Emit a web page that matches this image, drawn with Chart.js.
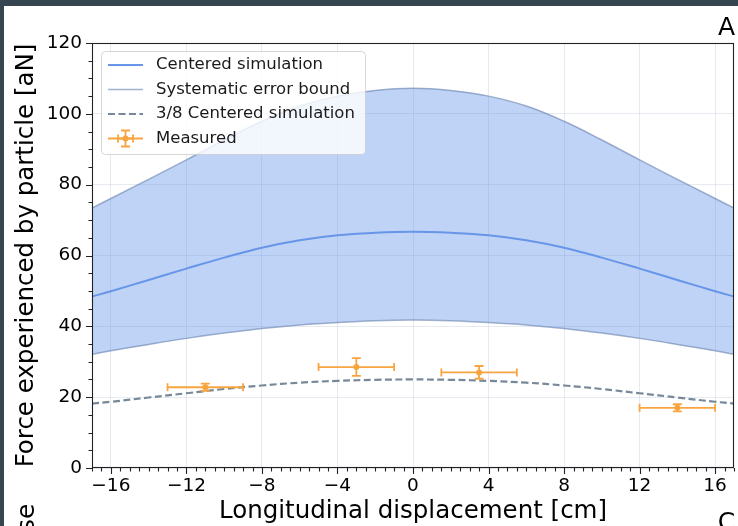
<!DOCTYPE html>
<html>
<head>
<meta charset="utf-8">
<script src="https://cdn.jsdelivr.net/npm/chart.js@4.4.1/dist/chart.umd.min.js"></script>
<style>
  html, body { margin: 0; padding: 0; background: #fff; overflow: hidden; }
  canvas { display: block; }
</style>
</head>
<body>
<canvas id="plot" width="738" height="526"></canvas>
<script>
const FAMILY = "'DejaVu Sans', 'Liberation Sans', sans-serif";
const MINUS = '\u2212';

// Simulated force along the track (cm -> aN)
const xSim = [-17, -16, -14, -12, -10, -8, -6, -4, -2, 0, 2, 4, 6, 8, 10, 12, 14, 16, 17];
const centered = [48.4, 49.9, 53.1, 56.3, 59.4, 62.2, 64.3, 65.7, 66.4, 66.7, 66.4, 65.7, 64.3, 62.2, 59.4, 56.3, 53.1, 49.9, 48.4];
const upperBound = [73.4, 76.1, 81.5, 87.0, 92.6, 97.9, 102.2, 105.0, 106.6, 107.2, 106.6, 105.0, 102.2, 97.9, 92.6, 87.0, 81.5, 76.1, 73.4];
const lowerBound = [32.1, 33.1, 34.9, 36.6, 38.1, 39.4, 40.4, 41.1, 41.6, 41.8, 41.6, 41.1, 40.4, 39.4, 38.1, 36.6, 34.9, 33.1, 32.1];
const scaledCentered = [18.2, 18.7, 19.9, 21.1, 22.3, 23.3, 24.1, 24.6, 24.9, 25.0, 24.9, 24.6, 24.1, 23.3, 22.3, 21.1, 19.9, 18.7, 18.2];

// Measurements with their uncertainties
const xMeas = [-11, -3, 3.5, 14];
const yMeas = [22.8, 28.5, 27.0, 17.0];
const xErr = [2, 2, 2, 2];
const yErr = [1.0, 2.5, 1.8, 1.0];

const X_MAJOR = 4, X_MINOR = 0.5;
const Y_MAJOR = 20, Y_MINOR = 5;

const BLUE = '#6795e8';
const BOUND = 'rgba(105,130,175,0.62)';
const FILL = 'rgba(95,145,232,0.4)';
const SLATE = '#778899';
const ORANGE = '#f8a53f';
const GRID = 'rgba(160,175,200,0.25)';

const pts = ys => xSim.map((x, i) => ({x, y: ys[i]}));
const isMajor = (v, step) => Math.abs(v / step - Math.round(v / step)) < 1e-6;
const fmt = v => (v < 0 ? MINUS + Math.abs(v) : String(v));

function drawErrorbar(ctx, cx, cy, x0, x1, y0, y1, capX, capY) {
    ctx.beginPath();
    ctx.moveTo(x0, cy); ctx.lineTo(x1, cy);
    ctx.moveTo(cx, y0); ctx.lineTo(cx, y1);
    // caps
    ctx.moveTo(x0, cy - capY); ctx.lineTo(x0, cy + capY);
    ctx.moveTo(x1, cy - capY); ctx.lineTo(x1, cy + capY);
    ctx.moveTo(cx - capX, y0); ctx.lineTo(cx + capX, y0);
    ctx.moveTo(cx - capX, y1); ctx.lineTo(cx + capX, y1);
    ctx.stroke();
}

const figurePlugin = {
    id: 'figure',
    beforeDraw(chart) {
        const {ctx, width, height} = chart;
        ctx.save();
        ctx.fillStyle = '#fff';
        ctx.fillRect(0, 0, width, height);
        ctx.restore();
    },
    afterDatasetsDraw(chart) {
        const {ctx, scales: {x, y}} = chart;
        ctx.save();
        ctx.strokeStyle = ORANGE;
        ctx.lineWidth = 1.8;
        xMeas.forEach((xv, i) => {
            drawErrorbar(ctx,
                x.getPixelForValue(xv), y.getPixelForValue(yMeas[i]),
                x.getPixelForValue(xv - xErr[i]), x.getPixelForValue(xv + xErr[i]),
                y.getPixelForValue(yMeas[i] + yErr[i]), y.getPixelForValue(yMeas[i] - yErr[i]),
                4.5, 4);
        });
        ctx.restore();
    },
    afterDraw(chart) {
        const {ctx, chartArea: a, scales: {x, y}} = chart;
        ctx.save();

        // spines
        ctx.strokeStyle = '#222';
        ctx.lineWidth = 1.1;
        ctx.strokeRect(a.left + 0.5, a.top + 0.5, a.right - a.left - 1, a.bottom - a.top - 1);

        // outward ticks, major and minor
        ctx.beginPath();
        x.ticks.forEach(t => {
            const px = Math.round(x.getPixelForValue(t.value)) + 0.5;
            const len = isMajor(t.value, X_MAJOR) ? 6 : 3.5;
            ctx.moveTo(px, a.bottom);
            ctx.lineTo(px, a.bottom + len);
        });
        y.ticks.forEach(t => {
            const py = Math.round(y.getPixelForValue(t.value)) + 0.5;
            const len = isMajor(t.value, Y_MAJOR) ? 6 : 3.5;
            ctx.moveTo(a.left, py);
            ctx.lineTo(a.left - len, py);
        });
        ctx.stroke();

        drawLegend(chart);

        // panel letters
        ctx.fillStyle = '#000';
        ctx.font = `25px ${FAMILY}`;
        ctx.textAlign = 'center';
        ctx.textBaseline = 'alphabetic';
        ctx.fillText('A', 726.5, 35);
        ctx.fillText('C', 726.5, 530);
        ctx.save();
        ctx.translate(34, 532);
        ctx.rotate(-Math.PI / 2);
        ctx.textAlign = 'left';
        ctx.fillText('se', 0, 0);
        ctx.restore();

        // window frame
        ctx.fillStyle = '#354650';
        ctx.fillRect(0, 0, chart.width, 6);
        ctx.fillRect(0, 0, 4, chart.height);
        ctx.restore();
    }
};

function drawLegend(chart) {
    const {ctx} = chart;
    const ds = chart.data.datasets;
    const box = {x: 101.5, y: 51.5, w: 264, h: 103};
    const rows = [65, 89.5, 114, 138.5];
    const h0 = 108, h1 = 143, hc = (h0 + h1) / 2;

    ctx.save();
    ctx.beginPath();
    ctx.roundRect(box.x, box.y, box.w, box.h, 4);
    ctx.fillStyle = 'rgba(255,255,255,0.8)';
    ctx.fill();
    ctx.strokeStyle = 'rgba(204,204,204,0.8)';
    ctx.lineWidth = 1;
    ctx.stroke();

    const entries = [ds[1], ds[0], ds[3], ds[4]];
    entries.forEach((d, i) => {
        const ry = rows[i];
        ctx.strokeStyle = d.borderColor;
        ctx.lineWidth = d.borderWidth;
        ctx.setLineDash(d.borderDash || []);
        if (d.showLine === false) {
            ctx.strokeStyle = ORANGE;
            ctx.lineWidth = 1.8;
            ctx.beginPath();
            ctx.moveTo(h0, ry); ctx.lineTo(h1, ry);
            ctx.stroke();
            drawErrorbar(ctx, hc, ry, hc - 7.5, hc + 7.5, ry - 8, ry + 8, 4.5, 4);
            ctx.fillStyle = ORANGE;
            ctx.beginPath();
            ctx.arc(hc, ry, 3, 0, Math.PI * 2);
            ctx.fill();
        } else {
            ctx.beginPath();
            ctx.moveTo(h0, ry); ctx.lineTo(h1, ry);
            ctx.stroke();
        }
        ctx.setLineDash([]);
        ctx.fillStyle = '#1a1a1a';
        ctx.font = `16.5px ${FAMILY}`;
        ctx.textAlign = 'left';
        ctx.textBaseline = 'middle';
        ctx.fillText(d.label, 156, ry);
    });
    ctx.restore();
}

const ctx = document.getElementById('plot').getContext('2d');

new Chart(ctx, {
    type: 'line',
    data: {
        datasets: [
            {
                label: 'Systematic error bound',
                data: pts(upperBound),
                borderColor: BOUND,
                borderWidth: 1.5,
                backgroundColor: FILL,
                fill: {target: 2, above: FILL, below: FILL},
                pointRadius: 0,
                tension: 0.4,
            },
            {
                label: 'Centered simulation',
                data: pts(centered),
                borderColor: BLUE,
                borderWidth: 2,
                fill: false,
                pointRadius: 0,
                tension: 0.4,
            },
            {
                label: 'Systematic error bound (lower)',
                data: pts(lowerBound),
                borderColor: BOUND,
                borderWidth: 1.5,
                fill: false,
                pointRadius: 0,
                tension: 0.4,
            },
            {
                label: '3/8 Centered simulation',
                data: pts(scaledCentered),
                borderColor: SLATE,
                borderWidth: 2.2,
                borderDash: [7, 3.5],
                fill: false,
                pointRadius: 0,
                tension: 0.4,
            },
            {
                label: 'Measured',
                data: xMeas.map((x, i) => ({x, y: yMeas[i]})),
                showLine: false,
                borderColor: ORANGE,
                backgroundColor: ORANGE,
                pointRadius: 3,
                pointBorderWidth: 0,
                order: -1,
            }
        ]
    },
    options: {
        responsive: false,
        animation: false,
        events: [],
        layout: {padding: {left: 0, right: 3, top: 43, bottom: 0}},
        plugins: {
            legend: {display: false},
            tooltip: {enabled: false},
            filler: {drawTime: 'beforeDatasetsDraw'},
        },
        scales: {
            x: {
                type: 'linear',
                min: -17,
                max: 17,
                afterFit: s => {
                    s.height = 58;
                    s.paddingLeft = 0;
                    s.paddingRight = 0;
                },
                border: {display: false},
                grid: {
                    drawTicks: false,
                    color: c => isMajor(c.tick.value, X_MAJOR) ? GRID : 'transparent',
                    lineWidth: 1,
                },
                ticks: {
                    stepSize: X_MINOR,
                    autoSkip: false,
                    maxRotation: 0,
                    padding: 7,
                    color: '#000',
                    font: {family: FAMILY, size: 18.5},
                    callback: v => isMajor(v, X_MAJOR) ? fmt(v) : '',
                },
                title: {
                    display: true,
                    text: 'Longitudinal displacement [cm]',
                    color: '#000',
                    font: {family: FAMILY, size: 24.5},
                    padding: {top: 0, bottom: 0},
                },
            },
            y: {
                type: 'linear',
                min: 0,
                max: 120,
                afterFit: s => { s.width = 92; },
                border: {display: false},
                grid: {
                    drawTicks: false,
                    color: c => isMajor(c.tick.value, Y_MAJOR) ? GRID : 'transparent',
                    lineWidth: 1,
                },
                ticks: {
                    stepSize: Y_MINOR,
                    autoSkip: false,
                    padding: 10,
                    color: '#000',
                    font: {family: FAMILY, size: 18.5},
                    callback: v => isMajor(v, Y_MAJOR) ? fmt(v) : '',
                },
                title: {
                    display: true,
                    text: 'Force experienced by particle [aN]',
                    color: '#000',
                    font: {family: FAMILY, size: 24.5},
                    padding: {top: 12, bottom: 0},
                },
            }
        }
    },
    plugins: [figurePlugin]
});
</script>
</body>
</html>
